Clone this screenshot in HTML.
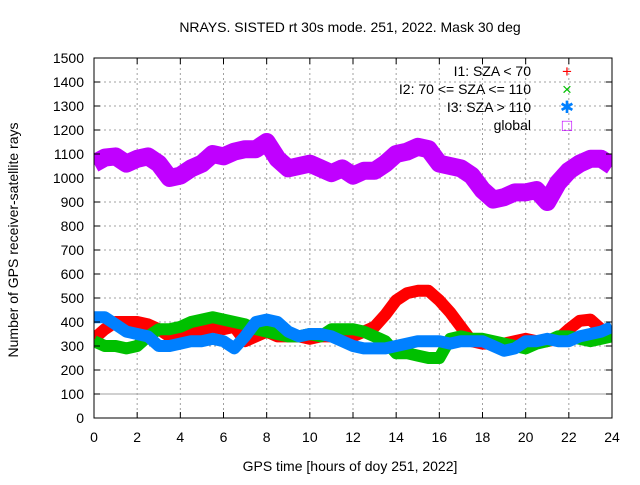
<!DOCTYPE html>
<html><head><meta charset="utf-8"><style>
body{margin:0;background:#fff}
svg text{font-family:"Liberation Sans",sans-serif;font-size:14px;fill:#000}
</style></head><body>
<svg id="c" width="640" height="480" viewBox="0 0 640 480">
<defs><clipPath id="pc"><rect x="94" y="58" width="518" height="360"/></clipPath></defs>
<rect width="640" height="480" fill="#fff"/>
<g id="grid"></g>
<g id="series" clip-path="url(#pc)"></g>
<rect x="94" y="58" width="518" height="360" fill="none" stroke="#000" stroke-width="1"/>
<g id="ticks"></g>
<text x="350" y="32" text-anchor="middle">NRAYS. SISTED rt 30s mode. 251, 2022. Mask 30 deg</text>
<text x="350" y="471" text-anchor="middle">GPS time [hours of doy 251, 2022]</text>
<text transform="translate(18,240) rotate(-90)" text-anchor="middle">Number of GPS receiver-satellite rays</text>
<g id="legend"></g>
</svg>
<script>
const hours=[0,0.5,1,1.5,2,2.5,3,3.5,4,4.5,5,5.5,6,6.5,7,7.5,8,8.5,9,9.5,10,10.5,11,11.5,12,12.5,13,13.5,14,14.5,15,15.5,16,16.5,17,17.5,18,18.5,19,19.5,20,20.5,21,21.5,22,22.5,23,23.5,24];
const globalVals=[1060,1085,1090,1060,1080,1090,1060,1000,1010,1040,1060,1100,1090,1110,1120,1120,1150,1080,1040,1050,1060,1040,1020,1040,1010,1030,1030,1060,1100,1110,1130,1120,1060,1050,1040,1010,950,910,920,940,940,950,900,980,1030,1060,1080,1080,1050];
const i1Vals=[330,370,400,400,400,390,370,340,350,370,360,380,370,380,320,340,360,340,340,340,330,340,340,330,340,360,380,430,490,520,530,530,490,440,380,320,310,310,310,320,330,320,320,330,370,405,410,370,340];
const i2Vals=[320,300,300,290,300,340,370,370,380,400,410,420,410,400,390,370,360,350,340,340,350,340,370,370,370,360,340,320,270,270,260,250,250,330,340,330,330,320,310,300,290,310,320,340,340,330,320,330,340];
const i3Vals=[420,420,390,360,350,340,300,300,310,320,320,330,320,290,340,400,410,400,360,340,350,350,340,320,300,290,290,290,300,310,320,320,320,310,320,320,320,300,280,290,320,320,330,320,320,340,350,360,380];
const xTicks=[0,2,4,6,8,10,12,14,16,18,20,22,24];
const yTicks=[0,100,200,300,400,500,600,700,800,900,1000,1100,1200,1300,1400,1500];
const NS="http://www.w3.org/2000/svg";
const X=h=>94+h*518/24, Y=v=>418-v*0.24;
function mk(t,a,p){const e=document.createElementNS(NS,t);for(const k in a)e.setAttribute(k,a[k]);p.appendChild(e);return e;}
const grid=document.getElementById('grid'),ticks=document.getElementById('ticks');
xTicks.forEach(h=>{
 if(h>0&&h<24){const l=mk('line',{x1:X(h),x2:X(h),y1:58,y2:418,stroke:'#a0a0a0','stroke-dasharray':'2,3'},grid);
 }
 const t=mk('line',{x1:X(h),x2:X(h),y1:418,y2:412,stroke:'#000'},ticks);
 
 const t2=mk('line',{x1:X(h),x2:X(h),y1:58,y2:64,stroke:'#000'},ticks);
 
 const tx=mk('text',{x:X(h),y:442,'text-anchor':'middle'},ticks);tx.textContent=h;
 
});
yTicks.forEach(v=>{
 if(v>0&&v<1500){const l=mk('line',{x1:94,x2:612,y1:Y(v),y2:Y(v),stroke:'#a0a0a0','stroke-dasharray':v==100?'':'2,3'},grid);
 }
 const t=mk('line',{x1:94,x2:100,y1:Y(v),y2:Y(v),stroke:'#000'},ticks);
 
 const t2=mk('line',{x1:606,x2:612,y1:Y(v),y2:Y(v),stroke:'#000'},ticks);
 
 const tx=mk('text',{x:84,y:Y(v)+5,'text-anchor':'end'},ticks);tx.textContent=v;
 
});
const ser=document.getElementById('series');
[[globalVals,'#c000ff',18,'series-global'],[i1Vals,'#ff0000',12,'series-i1'],[i2Vals,'#00c000',12,'series-i2'],[i3Vals,'#0080ff',12,'series-i3']].forEach(([vals,c,w,n])=>{
 const p=mk('polyline',{points:vals.map((v,i)=>X(hours[i])+','+Y(v)).join(' '),fill:'none',stroke:c,'stroke-width':w,'stroke-linejoin':'round','stroke-linecap':'butt'},ser);
 
});
const lg=document.getElementById('legend');
[['I1: SZA < 70','#ff0000','+'],['I2: 70 <= SZA <= 110','#00c000','×'],['I3: SZA > 110','#0080ff','✱'],['global','#c000ff','□']].forEach(([t,c,s],i)=>{
 const y=76+i*18;
 const tx=mk('text',{x:531,y:y,'text-anchor':'end'},lg);tx.textContent=t;
 
 const m=mk('text',{x:567,y:y+1,'text-anchor':'middle',style:'fill:'+c+';font-size:17px'},lg);m.textContent=s;
 
});
</script>
</body></html>
